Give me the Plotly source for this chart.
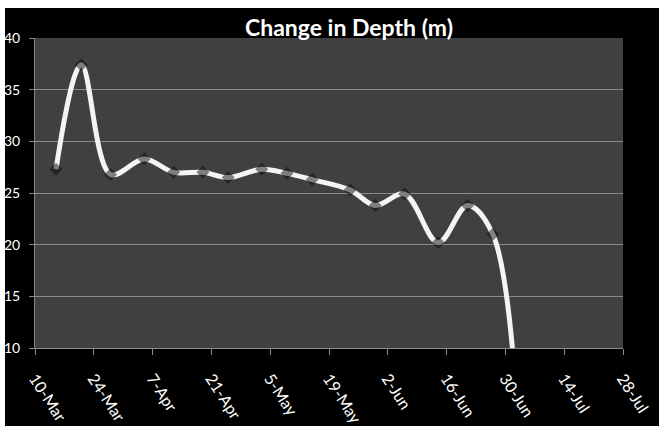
import plotly.graph_objects as go

# Survey dates and measured depth (m)
dates = [
    "2008-03-15", "2008-03-21", "2008-03-28", "2008-04-05", "2008-04-12",
    "2008-04-19", "2008-04-25", "2008-05-03", "2008-05-09", "2008-05-15",
    "2008-05-24", "2008-05-30", "2008-06-06", "2008-06-14", "2008-06-21",
    "2008-06-27", "2008-07-03",
]
depth = [
    27.3, 37.4, 26.8, 28.3, 27.0,
    27.0, 26.5, 27.3, 26.9, 26.3,
    25.3, 23.8, 24.9, 20.2, 23.8,
    21.0, 3.0,
]

y_ticks = [10, 15, 20, 25, 30, 35, 40]

FONT = "Lato"

fig = go.Figure()

# smooth white depth curve
fig.add_trace(go.Scatter(
    x=dates, y=depth, mode="lines",
    line=dict(color="#f4f4f4", width=5, shape="spline", smoothing=1.0),
    hoverinfo="skip", showlegend=False,
))
# dark diamond markers at each survey
fig.add_trace(go.Scatter(
    x=dates, y=depth, mode="markers",
    marker=dict(symbol="diamond", size=10, color="rgba(10,10,10,0.5)",
                line=dict(width=0)),
    showlegend=False,
))

W, H = 659, 426
L, R, T, B = 35, 36, 38, 78
pw, ph = W - L - R, H - T - B


def px_x(px):
    return (px - L) / pw


def px_y(py):
    return (H - B - py) / ph


shapes = [
    # light strips along the top and left edges
    dict(type="rect", xref="paper", yref="paper", layer="below",
         x0=px_x(0), x1=px_x(W), y0=px_y(8), y1=px_y(0),
         fillcolor="white", line=dict(width=0)),
    dict(type="rect", xref="paper", yref="paper", layer="below",
         x0=px_x(0), x1=px_x(5), y0=px_y(H), y1=px_y(0),
         fillcolor="white", line=dict(width=0)),
]

fig.update_layout(
    width=W, height=H,
    margin=dict(l=L, r=R, t=T, b=B),
    paper_bgcolor="black",
    plot_bgcolor="#404040",
    shapes=shapes,
    title=dict(
        text="<b>Change in Depth (m)</b>",
        font=dict(family=FONT, size=23, color="white"),
        x=349 / W, xanchor="center",
        y=1 - 28 / H, yanchor="middle",
    ),
    xaxis=dict(
        type="date",
        range=["2008-03-10", "2008-07-28"],
        tick0="2008-03-10", dtick=14 * 86400000,
        tickformat="%-d-%b",
        tickangle=57,
        showgrid=False,
        showline=True, linecolor="#8a8a8a", linewidth=1,
        ticks="outside", ticklen=6, tickcolor="#8a8a8a",
        ticklabelstandoff=8,
        tickfont=dict(family=FONT, size=16, color="white"),
        zeroline=False, automargin=False,
    ),
    yaxis=dict(
        range=[10, 40],
        tickvals=y_ticks,
        showgrid=True, gridcolor="#8a8a8a", gridwidth=1,
        showline=True, linecolor="#8a8a8a", linewidth=1,
        ticks="outside", ticklen=5, tickcolor="#8a8a8a",
        ticklabelstandoff=6,
        tickfont=dict(family=FONT, size=14, color="white"),
        zeroline=False, automargin=False,
    ),
)

fig.write_html("out.html")
